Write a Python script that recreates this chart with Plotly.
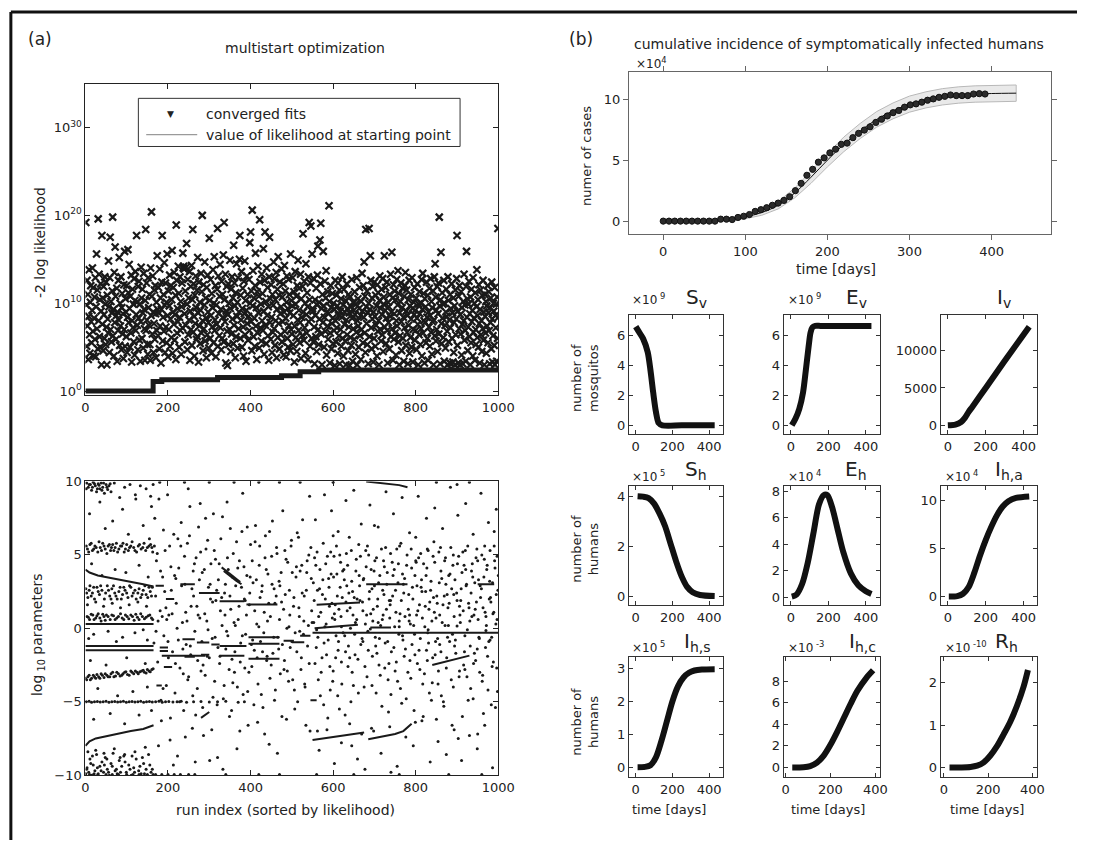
import plotly.graph_objects as go

W, H = 1094, 848

# ---------------- data: (a) multistart optimization ----------------
# log10 of (-2 log likelihood) at the starting point of each run (sorted by final likelihood)
start_e = [
19.2,9.8,5.1,12.6,7.4,11.0,3.6,8.5,13.8,6.4,4.3,10.1,12.0,7.9,5.5,9.2,14.0,6.8,11.8,4.0,8.3,10.7,5.9,12.9,3.9,
9.6,15.6,7.1,11.5,4.8,19.6,8.0,13.3,6.2,10.4,5.0,12.2,9.1,3.0,17.7,7.6,10.6,4.6,11.9,8.7,6.0,13.0,9.9,5.3,12.4,
7.3,3.0,10.9,8.2,6.6,14.8,9.6,4.4,12.9,17.5,7.0,10.2,5.6,8.9,11.4,19.8,6.3,9.3,4.0,13.5,7.8,16.4,10.8,5.9,8.6,
11.7,3.4,9.0,6.9,12.6,8.1,15.2,5.2,10.0,7.4,13.0,4.7,9.5,11.1,6.5,8.8,3.7,12.1,7.0,15.9,5.1,10.5,9.0,6.2,12.0,
4.4,8.4,16.1,11.2,7.8,14.4,9.4,5.0,10.8,6.6,13.2,3.3,8.0,11.6,7.2,9.9,5.6,12.8,4.1,10.3,13.6,6.9,8.7,17.7,10.1,
7.5,4.7,11.9,8.3,12.5,5.8,9.9,3.4,7.9,14.1,10.6,6.0,11.6,8.9,4.9,13.4,9.3,7.1,3.5,10.3,18.4,6.9,12.3,8.1,5.3,
4.2,12.9,9.5,7.5,11.0,5.3,3.5,14.0,8.6,20.4,10.8,6.5,13.1,9.0,4.4,7.7,11.5,5.9,12.0,8.8,3.8,10.1,6.9,15.4,9.3,
6.3,11.8,8.9,4.8,13.9,7.4,10.6,3.2,9.3,12.4,17.7,5.7,8.4,11.0,6.8,14.6,9.8,4.4,12.3,7.3,10.1,5.5,15.6,8.6,3.9,
11.4,7.0,9.7,13.2,5.1,8.2,12.0,6.1,10.4,16.0,4.3,9.0,11.8,7.6,13.5,5.8,8.7,10.9,3.6,18.9,12.6,6.6,9.4,7.9,14.2,
11.1,5.0,8.4,13.0,6.9,10.2,4.2,9.6,12.3,7.2,15.7,14.0,14.2,13.9,8.8,5.6,11.4,7.5,14.1,16.8,9.9,4.7,12.7,6.4,10.6,
8.1,13.6,3.5,9.1,11.9,7.0,14.3,5.2,10.4,18.4,6.7,12.2,8.5,4.0,10.9,7.7,13.1,9.5,5.9,11.5,6.2,15.2,8.9,3.3,12.4,
7.4,10.1,5.4,9.2,13.4,6.6,11.3,20.0,8.0,4.6,12.1,7.1,9.8,14.7,5.7,10.6,8.3,3.8,11.8,6.4,13.2,9.0,7.8,4.9,17.4,
10.3,6.0,12.7,8.6,4.3,11.1,7.3,9.5,13.8,5.5,10.0,15.3,6.9,8.1,12.0,3.9,9.8,7.6,11.6,18.5,5.1,13.1,8.8,6.3,10.8,
14.4,7.2,9.3,4.7,12.5,6.0,11.0,8.4,15.5,5.6,19.2,10.4,7.9,13.3,3.2,9.1,11.9,6.8,2.9,8.7,12.2,5.3,10.0,7.0,14.9,
9.4,4.5,11.6,6.5,13.0,8.2,10.6,5.4,16.6,7.5,12.3,9.7,3.8,11.2,6.2,14.5,8.5,10.1,4.9,12.9,7.1,9.0,15.0,17.7,6.0,
10.9,8.1,13.6,5.0,9.4,11.7,7.3,4.0,12.5,8.8,14.8,6.4,10.3,3.4,9.2,13.1,7.7,11.0,5.8,8.5,12.7,6.9,16.9,10.0,18.1,
7.9,11.4,4.6,20.6,9.7,13.7,6.2,10.6,8.3,5.1,12.0,15.7,7.4,9.5,3.6,11.3,6.6,14.2,8.9,10.8,4.9,19.5,12.4,7.2,9.9,
5.7,13.3,8.0,11.1,6.9,16.2,9.1,4.2,12.6,18.1,7.5,10.2,5.4,14.0,8.6,11.8,6.3,9.6,3.5,13.0,17.5,7.8,10.5,5.9,12.1,
8.4,4.4,11.0,6.7,9.8,14.7,7.1,12.8,5.2,10.4,8.0,13.5,3.8,9.3,11.6,6.1,15.3,7.7,10.9,4.8,12.4,8.8,6.4,9.6,13.9,
5.6,10.7,7.9,12.2,4.1,9.0,14.3,6.8,11.4,8.3,3.9,10.1,13.1,6.0,9.4,5.0,12.7,7.5,11.0,8.9,4.6,15.6,7.0,10.3,6.5,
9.7,12.9,5.3,8.6,11.3,3.3,7.4,13.6,9.9,6.1,10.8,4.5,12.0,8.1,14.9,6.9,9.2,11.7,5.5,7.8,13.3,3.7,10.5,8.4,6.3,
11.9,17.9,9.0,5.8,12.5,7.2,10.0,4.3,14.5,8.7,6.6,11.2,9.6,3.6,13.0,7.9,19.2,10.4,5.1,12.3,18.8,8.2,6.0,15.6,9.4,
9.1,5.6,12.8,7.3,3.1,10.4,8.6,6.2,11.7,4.5,9.8,13.2,16.5,7.0,5.3,10.1,8.2,17.2,12.2,19.1,6.5,9.4,3.0,11.0,7.8,
15.9,9.7,5.0,8.4,12.5,6.8,10.6,13.7,4.1,9.0,7.4,11.3,5.9,8.8,21.1,10.2,3.2,6.6,12.0,9.5,4.8,7.7,11.1,8.3,5.4,
10.0,6.9,9.3,2.9,12.6,8.0,5.6,10.9,7.2,9.7,4.3,12.3,8.6,6.3,11.5,3.1,9.1,7.0,10.5,5.1,8.4,13.0,6.0,9.8,4.0,
11.6,7.6,9.0,5.7,10.3,3.0,8.1,12.2,6.4,9.4,4.6,11.0,7.3,8.9,2.9,10.7,6.1,9.6,5.2,12.7,8.3,3.4,10.1,7.1,9.2,
5.9,11.3,8.7,4.2,9.9,6.7,12.9,3.0,8.0,10.5,7.4,5.0,9.4,11.8,6.3,8.6,3.6,10.2,7.0,13.4,9.1,5.5,12.0,8.4,14.7,
6.6,10.8,4.4,18.4,9.6,7.7,11.4,5.3,8.9,3.1,10.0,18.5,6.2,9.3,15.4,12.6,7.2,4.8,10.6,8.2,11.9,3.3,9.0,6.0,12.4,
8.5,5.1,10.9,7.5,9.7,4.0,12.1,6.8,11.2,8.0,3.0,10.3,13.1,7.0,9.4,5.7,11.6,8.7,6.4,12.8,4.5,9.9,10.7,15.4,7.3,
9.2,11.8,5.4,8.3,12.4,6.9,3.2,10.1,7.8,9.6,4.8,11.0,8.5,13.3,6.2,9.0,15.8,7.1,10.6,3.5,12.1,5.9,8.8,11.4,6.6,
10.4,4.1,8.0,12.7,7.4,9.8,13.7,5.6,11.1,3.0,8.9,6.3,10.2,12.3,7.9,4.6,9.5,11.7,6.0,8.4,3.4,10.8,7.2,12.0,13.5,
5.2,9.1,11.5,6.7,8.6,3.1,10.4,7.5,12.6,4.3,9.7,6.1,11.0,8.2,5.0,12.9,9.4,3.3,7.0,10.1,8.7,11.8,5.8,9.2,6.9,
10.6,4.7,8.3,12.2,7.6,3.0,9.9,6.4,11.3,8.8,5.3,10.0,7.1,12.7,4.0,9.3,13.4,6.6,11.1,8.0,3.2,10.5,7.8,9.6,5.5,
12.4,8.4,6.0,10.9,3.5,9.0,7.3,11.7,5.1,8.6,12.8,6.7,10.2,4.2,9.5,7.9,11.4,3.0,8.1,13.0,6.3,14.5,10.7,5.7,9.2,
7.0,11.9,4.5,8.8,12.3,6.5,19.8,9.7,3.1,10.4,15.8,7.7,5.4,11.2,8.3,9.9,6.1,12.6,3.4,10.0,7.5,4.9,9.0,11.6,8.5,
6.8,3.0,13.0,10.3,5.6,8.1,3.2,11.0,7.2,9.4,3.1,12.2,6.0,8.9,3.3,10.6,4.4,7.8,9.7,3.0,11.5,6.4,8.2,12.8,17.7,
5.2,9.1,3.2,10.8,7.1,12.0,3.0,8.7,6.5,11.3,4.1,9.5,7.6,3.1,10.2,8.0,13.3,5.8,9.8,6.9,3.4,11.9,15.9,8.4,10.5,
4.6,7.3,9.9,12.5,6.2,8.8,3.0,10.7,5.5,11.6,7.9,9.2,4.0,12.9,6.7,8.3,10.0,3.5,11.2,7.0,5.3,9.6,13.8,6.1,8.6,
10.4,5.0,12.1,7.7,3.2,9.3,11.5,6.4,8.0,4.5,10.9,7.1,12.6,5.8,9.0,3.0,11.0,8.5,6.6,10.2,4.3,9.7,7.4,12.0,5.5,
8.9,11.3,6.9,3.1,9.5,7.8,10.6,4.8,12.4,8.2,3.3,6.3,10.0,9.1,5.2,11.8,3.0,8.6,7.2,9.9,3.4,10.7,6.0,18.5,8.4,
]
run_index = list(range(1, len(start_e) + 1))

# converged fits: step levels (log10 of -2 log likelihood)
conv_run = [0, 164, 185, 320, 475, 520, 565, 1000]
conv_e = [0.0, 1.1, 1.3, 1.55, 1.75, 2.2, 2.4, 2.4]

# log10 parameters of the converged fits (run index, value)
param_pts_a = [
(3,9.9),(7,9.6),(12,9.8),(15,9.4),(19,9.95),(24,9.7),(27,9.3),(31,9.85),(35,9.5),(38,9.9),(42,9.6),(46,9.2),(50,9.8),
(54,9.45),(57,9.7),(62,9.3),(70,9.9),(83,8.9),(95,9.6),(108,9.8),(121,9.1),(133,9.7),(147,9.5),(158,9.0),(164,9.8),
(2,9.5),(9,9.8),(17,9.6),(22,9.85),(29,9.5),(33,9.75),(40,9.4),(44,9.9),(52,9.6),(60,9.85),
(10,7.8),(35,8.6),(48,6.8),(66,7.3),(90,8.1),(104,6.4),(122,8.8),(140,7.0),(155,6.1),(160,8.3),
(2,5.6),(8,5.2),(14,5.8),(20,5.4),(26,5.5),(33,5.9),(39,5.3),(45,5.6),(52,5.1),(58,5.7),(63,5.5),(69,5.3),(75,5.8),
(81,5.4),(88,5.6),(94,5.2),(100,5.7),(107,5.5),(113,5.9),(120,5.3),(128,5.6),(135,5.4),(142,5.8),(150,5.5),(158,5.7),(163,5.2),
(5,5.4),(11,5.7),(17,5.3),(23,5.6),(30,5.2),(36,5.5),(42,5.8),(48,5.4),(55,5.6),(61,5.3),(66,5.7),(72,5.5),(78,5.2),
(85,5.6),(91,5.8),(97,5.4),(104,5.3),(110,5.6),(117,5.5),(124,5.2),(131,5.7),(139,5.5),(146,5.3),(154,5.6),(161,5.5),
(15,4.4),(40,3.6),(72,4.0),(98,3.8),(130,4.3),(152,3.5),
(1,2.7),(6,2.1),(11,2.9),(17,2.4),(22,2.0),(28,2.8),(34,2.3),(40,2.6),(46,2.0),(53,2.9),(59,2.2),(64,2.7),(71,2.4),
(77,2.0),(84,2.8),(90,2.3),(96,2.6),(103,2.1),(110,2.8),(116,2.4),(123,2.0),(130,2.7),(137,2.3),(144,2.9),(151,2.1),
(157,2.5),(162,2.8),(5,1.6),(25,1.8),(44,1.5),(65,1.7),(85,1.4),(106,1.6),(127,1.8),(148,1.5),
(3,2.4),(9,2.6),(14,2.2),(20,2.8),(31,2.5),(37,2.9),(49,2.4),(56,2.6),(62,2.0),(68,2.9),(74,2.2),(81,2.5),(87,2.0),
(93,2.8),(100,2.4),(107,2.9),(113,2.2),(120,2.6),(127,2.4),(134,2.1),(140,2.6),(147,2.3),(154,2.8),(160,2.2),
(4,0.8),(10,0.6),(18,0.9),(25,0.7),(31,1.0),(38,0.5),(45,0.8),(51,0.9),(60,0.6),(68,0.85),(76,0.7),(85,1.0),(93,0.6),
(101,0.8),(110,0.9),(118,0.55),(126,0.75),(134,1.0),(143,0.65),(152,0.85),(160,0.7),
(7,0.75),(14,0.95),(21,0.6),(28,0.85),(35,0.7),(42,0.95),(48,0.55),(55,0.8),(64,0.9),(72,0.6),(80,0.8),(89,0.7),
(97,0.9),(105,0.65),(114,0.8),(122,0.95),(130,0.6),(138,0.8),(147,0.75),(156,0.9),(163,0.6),
(20,-0.4),(55,-0.2),(90,-0.6),(120,-0.3),(150,-0.8),(8,-0.7),(75,-0.9),(140,-0.1),(12,-2.2),(50,-2.5),(100,-2.0),(145,-2.4),
(0,-3.4),(6,-3.3),(12,-3.5),(19,-3.2),(25,-3.4),(32,-3.3),(38,-3.1),(45,-3.35),(52,-3.2),(59,-3.3),(66,-3.0),(73,-3.25),
(80,-3.1),(88,-3.2),(95,-3.0),(102,-3.15),(110,-2.9),(117,-3.1),(125,-3.0),(132,-2.95),(140,-2.85),(147,-3.05),(154,-2.9),(161,-2.8),
(3,-3.5),(9,-3.2),(15,-3.4),(22,-3.3),(28,-3.15),(35,-3.4),(41,-3.2),(48,-3.1),(55,-3.3),(62,-3.1),(69,-3.3),(76,-3.0),
(84,-3.25),(91,-3.1),(98,-2.95),(106,-3.2),(113,-3.0),(121,-2.9),(128,-3.1),(136,-2.9),(143,-3.0),(150,-2.8),(157,-2.95),(164,-2.75),
(30,-4.1),(78,-4.6),(115,-4.3),(150,-4.0),
(2,-5.0),(9,-4.97),(15,-5.03),(22,-5.0),(29,-4.98),(36,-5.02),(43,-5.0),(50,-4.96),(57,-5.03),(64,-5.0),(71,-4.98),
(78,-5.02),(85,-5.0),(92,-4.97),(99,-5.03),(106,-5.0),(113,-4.98),(120,-5.02),(127,-5.0),(134,-4.97),(141,-5.03),
(148,-5.0),(155,-4.98),(162,-5.02),(170,-5.0),(178,-4.97),(186,-5.03),(194,-5.0),(202,-4.98),(212,-5.02),(222,-5.0),
(232,-4.97),(245,-5.03),(262,-5.0),(280,-4.98),(300,-5.02),(320,-5.0),(340,-4.97),(370,-5.03),(385,-5.0),
(20,-6.2),(60,-5.8),(95,-6.5),(130,-5.9),(160,-5.6),
(1,-9.9),(4,-9.5),(8,-9.8),(11,-8.9),(15,-10),(19,-9.3),(23,-9.7),(27,-8.6),(31,-9.9),(35,-9.4),(40,-9.1),(44,-9.8),
(48,-8.8),(53,-9.6),(58,-10),(62,-9.2),(67,-8.5),(72,-9.7),(77,-9.9),(82,-9.0),(88,-9.4),(93,-8.7),(99,-9.8),(105,-9.3),
(111,-10),(117,-9.5),(123,-8.9),(129,-9.7),(135,-9.9),(141,-9.2),(147,-9.6),(153,-8.6),(159,-9.8),(164,-9.95),
(6,-8.4),(25,-8.3),(45,-8.5),(70,-8.2),(95,-8.6),(120,-8.4),(145,-8.1),
(3,-9.6),(13,-9.2),(21,-9.9),(29,-9.5),(38,-9.7),(46,-9.3),(56,-9.8),(65,-9.4),(75,-9.6),(85,-9.8),(96,-9.1),
(108,-9.6),(119,-9.8),(132,-9.4),(143,-9.9),(156,-9.3),(162,-9.6),(17,-8.7),(52,-8.9),(84,-8.8),(113,-8.7),(138,-8.8),
(10,-9.95),(20,-9.95),(30,-9.95),(50,-9.95),(65,-9.95),(80,-9.95),(100,-9.95),(115,-9.95),(130,-9.95),(150,-9.95),
(170,-9.95),(185,-9.95),(200,-9.95),(215,-9.95),(230,-9.95),(250,-9.95),(265,-9.95),(340,-9.95),(420,-9.95),(470,-9.95),
(560,-9.95),(650,-9.95),(760,-9.95),(880,-9.95),(960,-9.95),
(180,9.95),(240,9.95),(300,9.95),(360,9.95),(420,9.95),(470,9.95),(520,9.95),(600,9.95),(850,9.95),(930,9.95),
]
param_pts_b = [
(168,7.5),(172,4.6),(175,-2.3),(178,8.8),(181,1.2),(184,-6.3),(187,3.5),(190,-0.5),(193,5.3),(196,-3.9),(199,9.1),
(202,0.9),(205,-7.6),(208,2.6),(211,-1.6),(214,6.4),(217,-4.4),(220,1.7),(223,-8.7),(226,4.1),(229,-2.7),(232,7.2),
(235,0.4),(238,-5.6),(241,3.0),(244,-1.1),(247,5.8),(250,-3.3),(253,8.3),(256,1.5),(259,-6.8),(262,2.2),(265,-0.2),
(268,4.8),(271,-4.1),(274,6.9),(277,0.7),(280,-2.9),(283,3.8),(286,-7.3),(289,1.0),(292,5.4),(295,-1.9),(298,2.8),
(301,-9.0),(304,4.4),(307,-0.7),(310,7.8),(313,-3.6),(316,1.9),(319,-5.2),(322,3.3),(325,-2.4),(328,6.1),(331,0.2),
(334,-4.8),(337,2.4),(340,-1.4),(343,8.6),(346,4.0),(349,-6.0),(352,1.3),(355,-2.1),(358,5.1),(361,-3.0),(364,2.9),
(367,-8.2),(370,0.6),(373,4.6),(376,-1.0),(379,6.6),(382,-4.5),(385,2.0),(388,-0.4),(391,3.6),(394,-6.6),(397,1.6),
(400,5.7),(403,-2.6),(406,3.1),(409,-1.5),(412,7.0),(415,0.3),(418,-3.8),(421,4.3),(424,-0.9),(427,2.5),(430,-5.4),
(433,1.1),(436,6.3),(439,-2.2),(442,3.7),(445,-7.9),(448,0.8),(451,4.9),(454,-1.7),(457,2.7),(460,-4.2),(463,5.5),
(466,-0.6),(469,3.2),(472,-3.1),(475,1.8),(478,8.0),(481,-2.8),(484,2.3),(487,-6.2),(490,4.5),(493,0.1),(496,-1.3),
(499,6.0),(502,-3.5),(505,2.1),(508,-0.3),(511,4.2),(514,-5.0),(517,1.4),(520,3.9),(523,-2.0),(526,7.4),(529,0.5),
(532,-4.0),(535,2.6),(538,-1.2),(541,5.0),(544,-7.0),(547,3.4),
(166,-1.0),(170,2.2),(176,0.5),(183,-4.9),(189,6.7),(195,1.4),(201,-2.0),(207,4.2),(213,-9.3),(219,3.4),(225,-0.8),
(231,5.6),(237,-3.1),(243,1.1),(249,9.5),(255,-1.8),(261,3.9),(267,-5.9),(273,0.9),(279,5.2),(285,-2.5),(291,7.5),
(297,-0.1),(303,2.0),(309,-4.7),(315,4.7),(321,-1.3),(327,1.2),(333,-9.6),(339,3.0),(345,-0.5),(351,6.8),(357,-3.7),
(363,0.2),(369,4.1),(375,-2.3),(381,9.2),(387,1.9),(393,-4.3),(399,3.5),(405,-0.8),(411,5.9),(417,-6.4),(423,2.1),
(429,-1.6),(435,4.8),(441,0.5),(447,-3.4),(453,7.3),(459,1.7),(465,-8.5),(471,2.9),(477,-1.1),(483,5.3),(489,-2.9),
(495,0.9),(501,3.8),(507,-5.5),(513,6.5),(519,-0.2),(525,2.4),(531,-3.8),(537,4.6),(543,9.0),(549,0.4),
(167,5.6),(171,-0.2),(174,5.1),(177,-8.0),(182,3.9),(186,0.8),(188,-4.1),(192,2.5),(197,0.6),(200,-0.9),(204,5.6),
(206,-6.1),(210,1.0),(216,3.6),(218,-2.4),(222,0.0),(224,6.1),(228,-5.0),(233,2.9),(236,-1.4),(240,4.9),(242,-7.4),
(246,0.5),(248,-3.5),(252,6.3),(254,-1.2),(258,2.7),(260,-4.6),(264,4.4),(266,-9.1),(270,1.5),(272,-2.2),(276,3.3),
(278,8.5),(282,-0.9),(284,-5.4),(288,4.0),(290,-3.2),(294,0.5),(296,6.0),(300,-2.0),(302,3.0),(306,-6.9),(308,1.8),
(312,5.3),(314,-0.6),(318,2.6),(320,-8.8),(324,4.4),(326,-1.9),(330,2.1),(332,7.6),(336,-3.9),(338,0.9),(342,-0.2),
(344,4.8),(348,-2.8),(350,2.2),(354,-5.6),(356,3.5),(360,0.4),(362,-1.6),(366,5.9),(368,-4.0),(372,1.5),(374,-7.0),
(378,2.8),(380,-0.5),(384,4.2),(386,-2.7),(390,0.9),(392,6.9),(396,-3.0),(398,2.4),(402,-1.1),(404,4.6),(408,-5.2),
(410,1.2),(414,3.3),(416,-2.0),(420,0.1),(422,5.6),(426,-4.5),(428,2.9),(432,-0.3),(434,-7.2),(438,4.0),(440,-1.9),
(444,1.7),(446,6.6),(450,-2.5),(452,3.0),(456,-0.6),(458,-4.9),(462,2.2),(464,5.1),(468,-1.4),(470,0.6),(474,3.8),
(476,-6.0),(480,1.3),(482,-2.2),(486,4.7),(488,0.0),(492,-3.6),(494,2.6),(498,5.6),(500,-0.9),(504,1.5),(506,-4.2),
(510,3.5),(512,-1.6),(516,6.2),(518,0.8),(522,-2.8),(524,4.3),(528,-0.4),(530,2.2),(534,-6.6),(536,3.8),(540,0.2),
(542,-2.4),(546,5.5),(548,1.2),
]
param_pts_c = [
(552,3.1),(556,-2.4),(561,5.2),(565,0.8),(569,-4.6),(574,2.3),(578,-1.0),(582,4.4),(587,-6.1),(591,1.5),(595,3.7),
(600,-2.9),(604,0.6),(608,5.6),(613,-0.9),(617,2.8),(621,-3.8),(626,4.0),(630,-1.6),(634,1.2),(639,6.2),(643,-5.0),
(647,2.5),(652,-0.4),(656,4.7),(660,-2.1),(665,1.9),(669,-7.2),(673,3.3),(678,0.3),(682,-3.3),(686,5.0),(691,1.0),
(695,-1.9),(699,3.9),(704,-4.4),(708,2.0),(712,-0.7),(717,5.4),(721,0.9),(725,-2.7),(730,3.0),(734,-5.7),(738,1.6),
(743,4.5),(747,-1.3),(751,2.6),(756,-3.6),(760,0.5),(764,5.8),(769,-0.8),(773,3.4),(777,-4.8),(782,1.3),(786,-2.2),
(790,4.1),(795,0.2),(799,-6.4),(803,2.9),(808,-1.5),(812,5.1),(816,0.7),(821,-3.1),(825,3.6),(829,-0.3),(834,1.8),
(838,-4.9),(842,4.9),(847,-1.8),(851,2.2),(855,-2.9),(860,5.5),(864,0.4),(868,-5.3),(873,3.0),(877,-0.6),(881,1.7),
(886,-3.5),(890,4.3),(894,-1.2),(899,2.4),(903,-7.5),(907,0.9),(912,3.8),(916,-2.5),(920,5.3),(925,-0.1),(929,1.4),
(933,-4.1),(938,3.5),(942,-1.7),(946,4.8),(951,0.6),(955,-3.0),(959,2.7),(964,-5.8),(968,1.1),(972,4.0),(977,-0.9),
(981,2.1),(985,-2.6),(990,5.6),(994,0.3),(998,-4.3),
(554,1.9),(558,4.3),(563,-0.6),(567,2.7),(571,-3.0),(576,5.8),(580,0.1),(584,-1.8),(589,3.4),(593,-4.2),(597,1.7),
(602,4.9),(606,-2.0),(610,2.2),(615,-5.5),(619,0.8),(623,3.9),(628,-0.5),(632,5.1),(636,-2.6),(641,1.4),(645,3.2),
(649,-3.9),(654,0.4),(658,2.0),(662,5.7),(667,-1.1),(671,1.8),(675,-4.0),(680,4.2),(684,-0.2),(688,2.5),(693,-6.8),
(697,1.3),(701,4.6),(706,-1.7),(710,3.1),(714,-3.2),(719,0.6),(723,2.3),(727,5.5),(732,-0.9),(736,1.9),(740,-4.5),
(745,3.6),(749,0.1),(753,-2.3),(758,4.4),(762,1.0),(766,-5.1),(771,2.4),(775,-1.4),(779,5.0),(784,0.5),(788,-3.4),
(792,2.8),(797,-0.4),(801,4.5),(805,1.2),(810,-2.8),(814,3.3),(818,-6.0),(823,1.5),(827,4.1),(831,-1.0),(836,2.6),
(840,-3.7),(844,5.9),(849,0.7),(853,-0.7),(857,3.1),(862,-4.6),(866,1.6),(870,4.6),(875,-2.0),(879,0.2),(883,3.7),
(888,-6.6),(892,2.3),(896,-0.8),(901,4.4),(905,-3.3),(909,1.9),(914,5.2),(918,-1.6),(922,2.9),(927,-4.9),(931,0.5),
(935,3.9),(940,-2.4),(944,1.3),(948,5.4),(953,-0.6),(957,2.1),(961,-3.6),(966,4.7),(970,0.8),(974,-1.9),(979,3.2),
(983,-5.2),(987,1.0),(992,4.1),(996,-2.7),(999,2.6),
(557,7.4),(566,-8.3),(579,9.1),(585,-6.9),(596,8.0),(603,-9.2),(612,6.6),(620,-7.8),(631,8.7),(640,-6.5),(650,9.4),
(659,-8.9),(668,7.1),(677,-9.6),(689,8.4),(698,-7.0),(709,6.9),(716,-8.5),(728,9.3),(737,-6.7),(746,7.8),(755,-9.4),
(767,8.9),(776,-7.4),(785,6.5),(794,-8.0),(806,9.0),(815,-6.3),(826,7.5),(835,-9.1),(846,8.2),(854,-7.7),(865,6.8),
(874,-8.6),(884,9.6),(893,-6.9),(902,7.7),(911,-9.0),(921,8.5),(930,-7.3),(939,6.4),(949,-8.2),(958,9.2),(967,-6.6),
(976,7.2),(986,-9.5),(995,8.1),(562,-7.0),(600,6.3),(645,-8.0),(700,7.0),(740,-9.8),(800,6.2),(850,-6.2),(900,9.8),
(950,-7.2),(990,6.6),
(605,1.6),(618,4.5),(633,2.9),(648,0.9),(663,3.6),(679,5.3),(694,2.7),(709,0.4),(724,4.2),(739,1.9),(754,5.4),
(770,3.0),(785,0.9),(800,4.6),(815,2.5),(830,5.3),(845,1.1),(861,3.9),(876,2.3),(891,5.0),(906,1.5),(921,4.0),
(936,0.8),(952,3.3),(967,5.6),(982,1.8),(997,4.9),(612,-1.5),(640,-2.0),(672,-0.9),(703,-1.2),(735,-2.4),(768,-0.5),
(798,-1.8),(828,-2.2),(858,-1.1),(889,-0.4),(919,-2.8),(949,-1.4),(980,-0.8),(560,-0.1),(620,0.1),(690,-0.05),
(760,0.1),(830,-0.1),(900,0.15),(970,-0.15),
(553,0.4),(555,4.8),(559,-1.3),(562,2.6),(564,-3.5),(568,4.0),(570,1.1),(573,-2.0),(575,3.3),(577,-5.2),(581,2.0),
(583,0.3),(586,4.9),(588,-0.8),(590,2.8),(592,-2.6),(594,5.2),(598,0.7),(599,-3.6),(601,3.5),(603,1.0),(607,-0.5),
(609,3.7),(611,-4.6),(614,1.3),(616,5.0),(620,-2.3),(622,2.1),(624,-0.3),(627,3.3),(629,-5.9),(631,1.8),(635,4.3),
(637,-1.2),(638,2.4),(642,0.0),(644,5.3),(646,-3.0),(651,2.1),(653,-1.8),(655,3.9),(657,0.6),(661,-4.4),(664,2.9),
(666,4.9),(670,-0.7),(672,1.2),(674,3.4),(677,-2.6),(681,0.9),(683,5.6),(685,-1.5),(687,2.0),(692,4.0),(694,-3.9),
(696,0.5),(700,2.9),(702,-0.6),(705,4.8),(707,1.5),(711,-2.5),(713,3.6),(715,0.2),(718,-5.3),(720,2.6),(722,4.6),
(726,-1.0),(729,1.3),(731,3.8),(733,-3.5),(737,0.7),(739,5.1),(741,-1.6),(744,2.2),(748,4.0),(750,-2.9),(752,1.1),
(757,3.1),(759,-0.4),(761,5.6),(763,-4.1),(765,1.9),(768,3.7),(772,-1.9),(774,0.8),(778,4.3),(781,-3.0),(783,2.3),
(787,0.3),(789,5.4),(791,-1.1),(793,2.0),(796,-5.6),(798,3.6),(802,0.9),(804,-2.4),(807,4.8),(809,1.6),(811,-0.7),
(813,2.8),(817,-3.8),(819,4.4),(822,0.1),(824,2.5),(826,-1.5),(828,5.4),(832,1.3),(833,-4.4),(837,3.2),(839,0.5),
(841,-2.0),(843,2.1),(846,4.5),(848,-0.9),(852,1.7),(854,-3.8),(856,5.2),(858,0.9),(861,-1.6),(863,3.4),(867,-5.0),
(869,2.2),(871,0.2),(872,4.8),(874,-2.7),(878,1.4),(880,3.6),(882,-0.9),(885,5.5),(887,2.7),(891,-4.0),(893,0.8),
(895,3.3),(897,-1.7),(900,1.9),(904,4.9),(906,-2.9),(908,0.4),(910,2.7),(913,-6.0),(915,1.2),(917,4.3),(919,-0.5),
(923,3.0),(924,-3.3),(926,5.6),(928,1.7),(932,-1.2),(934,2.4),(937,4.4),(939,-4.8),(941,0.9),(943,3.1),(945,-2.2),
(947,1.8),(950,4.6),(954,-0.7),(956,2.9),(960,5.0),(962,-3.2),(963,1.4),(965,3.5),(969,-1.3),(971,0.2),(973,4.3),
(975,-4.2),(978,2.0),(980,5.3),(984,-0.6),(986,3.1),(988,-2.3),(989,1.1),(991,4.6),(993,-5.4),(995,2.3),(997,0.6),(1000,3.6),
]
# parameter traces that stay nearly constant over consecutive runs: (run0, run1, value0, value1)
param_flat_tracks = [
(0,165,0.3,0.3),(0,165,-1.2,-1.2),(0,165,-1.5,-1.5),
(170,190,2.9,2.9),(195,215,2.0,2.0),(230,265,3.0,3.0),(275,325,2.4,2.4),(325,385,1.85,1.85),(390,465,1.62,1.62),
(560,665,1.6,1.75),(680,780,3.0,3.0),(950,990,3.0,3.0),(555,660,0.0,0.25),(690,740,0.05,0.05),(550,1000,-0.3,-0.3),
(180,200,-1.3,-1.3),(180,200,-1.55,-1.55),(235,265,-0.75,-0.75),(270,300,-0.97,-0.97),(305,325,-1.1,-1.1),
(325,390,-1.2,-1.2),(395,470,-0.6,-0.6),(395,470,-1.05,-1.05),(480,505,-0.85,-0.85),(500,530,-0.95,-0.95),
(520,545,-0.5,-0.5),(185,290,-1.86,-1.86),(325,385,-1.86,-1.86),(395,470,-2.08,-2.08),(240,265,-1.93,-1.93),
(280,300,-1.8,-1.8),(190,210,-2.64,-2.64),(172,185,-3.9,-3.9),(545,560,-4.9,-4.9),(550,675,-7.6,-7.1),
]
param_curved_tracks = [
([0,10,30,60,100,140,165], [4.0,3.8,3.6,3.45,3.25,3.0,2.85]),
([0,10,25,50,80,110,140,165], [-8.0,-7.7,-7.5,-7.35,-7.15,-7.0,-6.85,-6.6]),
([280,290,300], [-6.1,-5.9,-5.7]),
([685,720,750,770,790], [-7.55,-7.35,-7.2,-7.0,-6.5]),
([840,870,900,930], [-2.5,-2.3,-2.1,-1.86]),
([680,720,760,780], [10.0,9.9,9.75,9.6]),
([330,345,360,375], [4.15,3.8,3.45,3.15]),
([335,350,365,378], [3.9,3.55,3.25,3.0]),
]

# ---------------- data: (b) cumulative incidence (x 10^4 cases) ----------------
obs_day = [0,7,14,21,28,35,42,49,56,63,70,77,84,91,98,105,112,119,126,133,140,147,154,161,168,175,182,189,196,203,
           210,217,224,231,238,245,252,259,266,273,280,287,294,301,308,315,322,329,336,343,350,357,364,371,378,385,392]
obs_cases = [0,0,0,0,0,0,0,0,0,0,0.16,0.16,0.13,0.3,0.4,0.54,0.8,0.94,1.1,1.3,1.48,1.7,2.0,2.5,3.1,3.76,4.25,4.84,
             5.19,5.6,5.9,6.3,6.4,6.85,7.2,7.47,7.74,8.1,8.36,8.63,8.9,9.08,9.35,9.54,9.62,9.76,9.92,10.03,10.16,
             10.24,10.35,10.3,10.3,10.3,10.43,10.46,10.43]
fit_day = [0,20,40,60,80,100,120,140,160,180,200,220,240,260,280,300,320,340,360,380,400,430]
fit_cases = [0,0,0.02,0.06,0.15,0.35,0.7,1.3,2.3,3.6,5.0,6.3,7.4,8.35,9.05,9.6,9.95,10.2,10.35,10.43,10.47,10.5]
band_hi = [0,0,0.04,0.11,0.25,0.5,0.92,1.6,2.7,4.1,5.55,6.9,8.02,8.99,9.7,10.26,10.61,10.87,11.02,11.1,11.14,11.17]
band_lo = [0,0,0,0.01,0.05,0.2,0.48,1.0,1.9,3.1,4.45,5.7,6.78,7.71,8.4,8.94,9.29,9.53,9.68,9.76,9.8,9.83]

# ---------------- data: model states ----------------
sv_days = [0,15,40,65,80,95,110,125,145,250,430]
sv_vals = [6.6,6.3,5.8,4.9,3.7,2.2,0.9,0.15,0,0,0]
ev_days = [5,25,45,65,80,95,105,115,130,160,430]
ev_vals = [0,0.45,1.1,2.2,3.7,5.3,6.2,6.55,6.65,6.65,6.65]
iv_days = [0,40,70,90,110,130,200,300,430]
iv_vals = [0,100,450,1000,1800,2500,5000,8600,13200]
sh_days = [10,40,70,100,130,160,190,220,250,280,310,350,430]
sh_vals = [4.0,3.98,3.92,3.7,3.3,2.8,2.1,1.4,0.8,0.38,0.17,0.06,0.02]
eh_days = [5,30,60,90,120,150,175,195,220,250,280,320,360,400,430]
eh_vals = [0.05,0.2,1.0,2.6,4.8,7.0,7.7,7.7,6.8,5.1,3.4,1.8,0.9,0.45,0.25]
iha_days = [5,50,80,110,140,170,200,230,260,290,320,360,430]
iha_vals = [0,0.05,0.3,1.0,2.5,4.3,5.9,7.3,8.5,9.4,9.95,10.3,10.45]
ihs_days = [10,50,80,110,140,170,200,230,260,290,320,360,430]
ihs_vals = [0,0.01,0.06,0.3,0.8,1.4,2.0,2.45,2.72,2.86,2.93,2.96,2.97]
ihc_days = [30,80,110,140,170,200,230,260,290,320,360,390]
ihc_vals = [0,0.02,0.12,0.45,1.1,2.1,3.3,4.6,5.9,7.1,8.3,9.0]
rh_days = [25,80,120,150,180,210,240,270,300,330,360,380]
rh_vals = [0,0,0.01,0.04,0.12,0.28,0.5,0.78,1.08,1.45,1.9,2.3]

# ---------------- helpers ----------------
FONT = "DejaVu Sans"
INK = "#1a1a1a"

def xd(a, b):
    return [a / W, b / W]

def yd(a, b):
    return [1 - b / H, 1 - a / H]

def axis(domain, rng, tickvals, anchor, ticks="inside", color="#222", ticktext=None, **kw):
    d = dict(domain=domain, range=rng, tickvals=tickvals, anchor=anchor, ticks=ticks, ticklen=5,
             tickwidth=1, tickcolor=color, showline=True, linecolor=color, linewidth=1,
             mirror="allticks", showgrid=False, zeroline=False,
             tickfont=dict(size=13, color="#222", family=FONT), fixedrange=True)
    if ticktext is not None:
        d["ticktext"] = ticktext
    d.update(kw)
    return d

annotations = []

def ann(text, x, y, size=13, xanchor="center", yanchor="middle", angle=0, color="#222"):
    annotations.append(dict(text=text, x=x / W, y=1 - y / H, xref="paper", yref="paper",
                            showarrow=False, xanchor=xanchor, yanchor=yanchor, textangle=angle,
                            font=dict(size=size, family=FONT, color=color)))

fig = go.Figure()
layout = {}

# ---------------- (a) top: likelihoods ----------------
fig.add_trace(go.Scatter(x=run_index, y=[10 ** e for e in start_e], mode="markers",
                         marker=dict(symbol="x-thin", size=7, color=INK, line=dict(width=2.2, color=INK)),
                         xaxis="x", yaxis="y", hoverinfo="skip"))
fig.add_trace(go.Scatter(x=conv_run, y=[10 ** e for e in conv_e], mode="lines",
                         line=dict(shape="hv", width=5, color=INK), xaxis="x", yaxis="y", hoverinfo="skip"))
layout["xaxis"] = axis(xd(83, 504), [0, 1000], [0, 200, 400, 600, 800, 1000], "y")
layout["yaxis"] = axis(yd(78, 395), [-0.45, 35], [1, 1e10, 1e20, 1e30], "x", type="log",
                       ticktext=["10<sup>0</sup>", "10<sup>10</sup>", "10<sup>20</sup>", "10<sup>30</sup>"])

# ---------------- (a) bottom: parameters ----------------
pts = param_pts_a + param_pts_b + param_pts_c
fig.add_trace(go.Scatter(x=[p[0] for p in pts], y=[p[1] for p in pts], mode="markers",
                         marker=dict(size=3, color=INK), xaxis="x2", yaxis="y2", hoverinfo="skip"))
lx, ly = [], []
for r0, r1, v0, v1 in param_flat_tracks:
    lx += [r0, r1, None]
    ly += [v0, v1, None]
for xs, ys in param_curved_tracks:
    lx += xs + [None]
    ly += ys + [None]
fig.add_trace(go.Scatter(x=lx, y=ly, mode="lines", line=dict(width=2, color=INK),
                         xaxis="x2", yaxis="y2", hoverinfo="skip"))
layout["xaxis2"] = axis(xd(83, 504), [0, 1000], [0, 200, 400, 600, 800, 1000], "y2")
layout["yaxis2"] = axis(yd(483, 782), [-10, 10], [-10, -5, 0, 5, 10], "x2")

# ---------------- (b) cumulative incidence ----------------
fig.add_trace(go.Scatter(x=fit_day + fit_day[::-1], y=band_hi + band_lo[::-1], mode="lines",
                         fill="toself", fillcolor="#e9e9e9", line=dict(color="#b8b8b8", width=1),
                         xaxis="x3", yaxis="y3", hoverinfo="skip"))
fig.add_trace(go.Scatter(x=fit_day, y=fit_cases, mode="lines", line=dict(color="#111", width=1, shape="spline"),
                         xaxis="x3", yaxis="y3", hoverinfo="skip"))
fig.add_trace(go.Scatter(x=obs_day, y=obs_cases, mode="markers",
                         marker=dict(size=6.2, color="#2b2b2b", line=dict(width=1, color="#111")),
                         xaxis="x3", yaxis="y3", hoverinfo="skip"))
layout["xaxis3"] = axis(xd(637, 1068), [-42, 473], [0, 100, 200, 300, 400], "y3", ticks="outside", color="#666")
layout["yaxis3"] = axis(yd(66, 231), [-1.05, 12.25], [0, 5, 10], "x3", ticks="outside", color="#666")

# ---------------- model state panels ----------------
cols = [(637, 733), (795, 893), (955, 1053)]
rows = [(314, 435), (488, 609), (662, 784)]
panels = [
    (sv_days, sv_vals, 0, 0, [-38, 475], [-0.6, 7.35], [0, 2, 4, 6]),
    (ev_days, ev_vals, 1, 0, [-38, 475], [-0.6, 7.35], [0, 2, 4, 6]),
    (iv_days, iv_vals, 2, 0, [-38, 470], [-1200, 14700], [0, 5000, 10000]),
    (sh_days, sh_vals, 0, 1, [-38, 475], [-0.35, 4.39], [0, 2, 4]),
    (eh_days, eh_vals, 1, 1, [-38, 475], [-0.6, 8.37], [0, 2, 4, 6, 8]),
    (iha_days, iha_vals, 2, 1, [-38, 470], [-0.9, 11.5], [0, 5, 10]),
    (ihs_days, ihs_vals, 0, 2, [-38, 475], [-0.3, 3.33], [0, 1, 2, 3]),
    (ihc_days, ihc_vals, 1, 2, [-8, 420], [-0.9, 10.2], [0, 2, 4, 6, 8]),
    (rh_days, rh_vals, 2, 2, [-15, 420], [-0.23, 2.6], [0, 1, 2]),
]
for i, (dx, dy, c, r, xr, yr, yt) in enumerate(panels):
    n = i + 4
    fig.add_trace(go.Scatter(x=dx, y=dy, mode="lines", line=dict(color="#111", width=6, shape="spline", smoothing=0.8),
                             xaxis=f"x{n}", yaxis=f"y{n}", hoverinfo="skip"))
    layout[f"xaxis{n}"] = axis(xd(*cols[c]), xr, [0, 200, 400], f"y{n}", color="#333", ticklen=4)
    layout[f"yaxis{n}"] = axis(yd(*rows[r]), yr, yt, f"x{n}", color="#333", ticklen=4,
                               ticktext=[str(v) for v in yt])

# ---------------- texts ----------------
ann("(a)", 37, 33, size=17)
ann("multistart optimization", 307, 42, size=14)
ann("-2 log likelihood", 36, 240, size=14, angle=-90)
ann("log<sub> 10</sub> parameters", 34, 639, size=14, angle=-90)
ann("run index (sorted by likelihood)", 287, 817, size=14)
ann("converged fits", 204, 109, size=14, xanchor="left")
ann("value of likelihood at starting point", 204, 130, size=14, xanchor="left")
ann("▼", 170, 109, size=9)

ann("(b)", 588, 33, size=17)
ann("cumulative incidence of symptomatically infected humans", 851, 38, size=14)
ann("×10<sup>4</sup>", 642, 57, size=12, xanchor="left")
ann("numer of cases", 594, 152, size=13, angle=-90)
ann("time [days]", 848, 267, size=14)

ann("number of<br>mosquitos", 593, 378, size=13, angle=-90)
ann("number of<br>humans", 593, 552, size=13, angle=-90)
ann("number of<br>humans", 593, 728, size=13, angle=-90)
for xc in (678, 840, 1002):
    ann("time [days]", xc, 817, size=13)

titles = [("S<sub>v</sub>", 706, 296), ("E<sub>v</sub>", 869, 296), ("I<sub>v</sub>", 1020, 296),
          ("S<sub>h</sub>", 706, 471), ("E<sub>h</sub>", 869, 471), ("I<sub>h,a</sub>", 1025, 471),
          ("I<sub>h,s</sub>", 707, 646), ("I<sub>h,c</sub>", 875, 646), ("R<sub>h</sub>", 1022, 646)]
for t, x, y in titles:
    ann(t, x, y, size=20)
mults = [("×10<sup> 9</sup>", 638, 297), ("×10<sup> 9</sup>", 797, 297),
         ("×10<sup> 5</sup>", 638, 477), ("×10<sup> 4</sup>", 797, 477), ("×10<sup> 4</sup>", 957, 477),
         ("×10<sup> 5</sup>", 638, 652), ("×10<sup> -3</sup>", 797, 652), ("×10<sup> -10</sup>", 957, 652)]
for t, x, y in mults:
    ann(t, x, y, size=12, xanchor="left")

shapes = [
    dict(type="rect", xref="paper", yref="paper", x0=137 / W, x1=465 / W, y0=1 - 142 / H, y1=1 - 93 / H,
         line=dict(color="#333", width=1), fillcolor="white", layer="above"),
    dict(type="line", xref="paper", yref="paper", x0=145 / W, x1=197 / W, y0=1 - 130 / H, y1=1 - 130 / H,
         line=dict(color="#9a9a9a", width=1.2)),
    dict(type="line", xref="paper", yref="paper", x0=7 / W, x1=7 / W, y0=0, y1=1 - 5 / H,
         line=dict(color="#111", width=3)),
    dict(type="line", xref="paper", yref="paper", x0=7 / W, x1=1, y0=1 - 5 / H, y1=1 - 5 / H,
         line=dict(color="#111", width=3)),
]

fig.update_layout(width=W, height=H, margin=dict(l=0, r=0, t=0, b=0), paper_bgcolor="white",
                  plot_bgcolor="white", showlegend=False, font=dict(family=FONT, color="#222"),
                  annotations=annotations, shapes=shapes, **layout)
fig.write_html("out.html", config={"displayModeBar": False},
               post_script="document.documentElement.style.overflow='hidden';document.body.style.margin='0';document.body.style.overflow='hidden';")
